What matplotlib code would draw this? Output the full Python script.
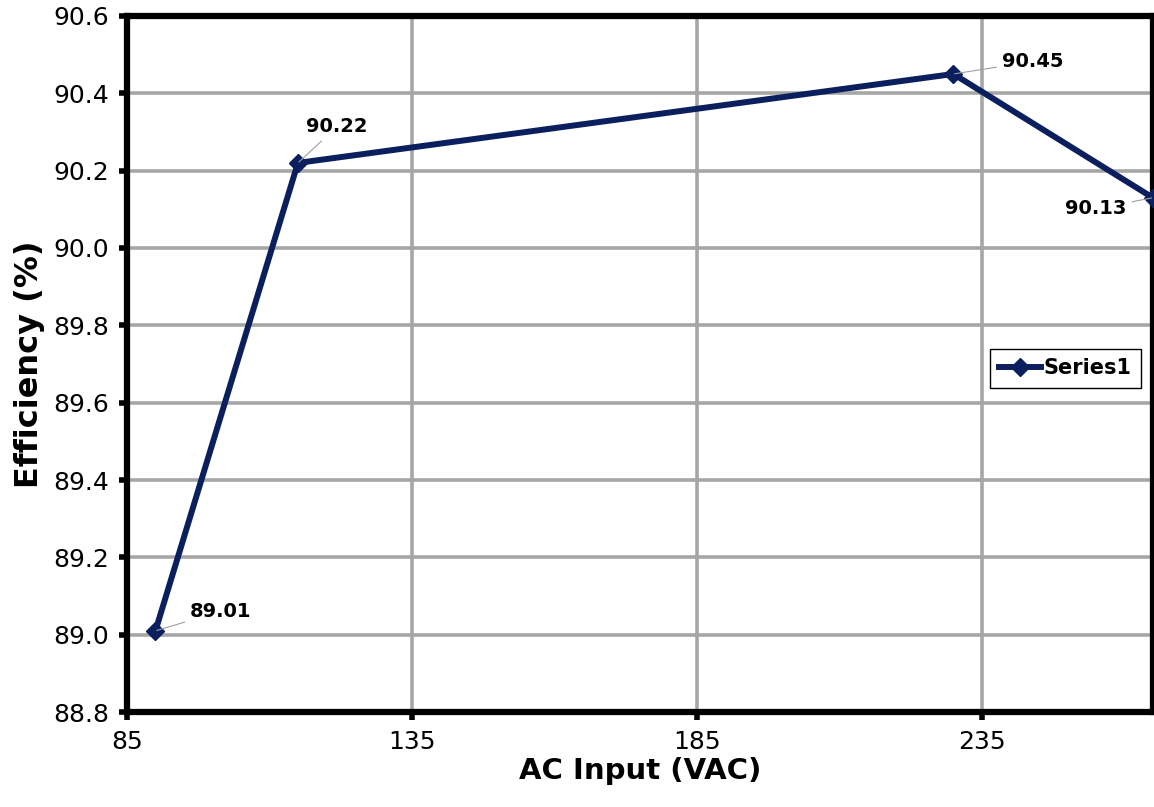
import matplotlib
matplotlib.use("Agg")
import matplotlib.pyplot as plt

# data
ac_input = [90, 115, 230, 265]
efficiency = [89.01, 90.22, 90.45, 90.13]
series_name = "Series1"
x_ticks = [85, 135, 185, 235]
y_ticks = [88.8, 89.0, 89.2, 89.4, 89.6, 89.8, 90.0, 90.2, 90.4, 90.6]

# label offsets in points (dx, dy) and alignment
label_offsets = [(25, 14, "left"), (28, 26, "center"), (35, 9, "left"), (-19, -8, "right")]

navy = "#0b1f5e"
grid_gray = "#a6a6a6"

fig = plt.figure(figsize=(11.54, 8.07), dpi=100)
ax = fig.add_axes([0.110, 0.1177, 0.889, 0.8625])

ax.plot(ac_input, efficiency, color=navy, linewidth=4.3, marker="D",
        markersize=9, markerfacecolor=navy, markeredgecolor=navy,
        label=series_name, zorder=3)

for x, y, (dx, dy, ha) in zip(ac_input, efficiency, label_offsets):
    ax.annotate(f"{y:.2f}", xy=(x, y), xytext=(dx, dy),
                textcoords="offset points", ha=ha, va="center",
                fontsize=14, fontweight="bold",
                arrowprops=dict(arrowstyle="-", color="#a0a0a0", lw=0.8,
                                shrinkA=2, shrinkB=1),
                annotation_clip=False, zorder=4)

ax.set_xlim(85, 265)
ax.set_ylim(88.8, 90.6)
ax.set_xticks(x_ticks)
ax.set_yticks(y_ticks)
ax.set_yticklabels([f"{v:.1f}" for v in y_ticks])

ax.grid(True, color=grid_gray, linewidth=2.6, zorder=0)
ax.set_axisbelow(True)

for side in ["left", "bottom", "top", "right"]:
    ax.spines[side].set_linewidth(4.5)
    ax.spines[side].set_color("black")

ax.tick_params(axis="both", direction="out", length=6, width=4,
               labelsize=18, pad=7, colors="black")

ax.set_xlabel("AC Input (VAC)", fontsize=21, fontweight="bold", labelpad=2)
ax.set_ylabel("Efficiency (%)", fontsize=23, fontweight="bold", labelpad=6)

leg = ax.legend(loc="center right", bbox_to_anchor=(0.988, 0.494),
                prop={"weight": "bold", "size": 15},
                fancybox=False, framealpha=1, edgecolor="black",
                handlelength=2.0, handletextpad=0.1, borderpad=0.45,
                borderaxespad=0)
leg.get_frame().set_linewidth(1)

fig.savefig("out.png", dpi=100)
